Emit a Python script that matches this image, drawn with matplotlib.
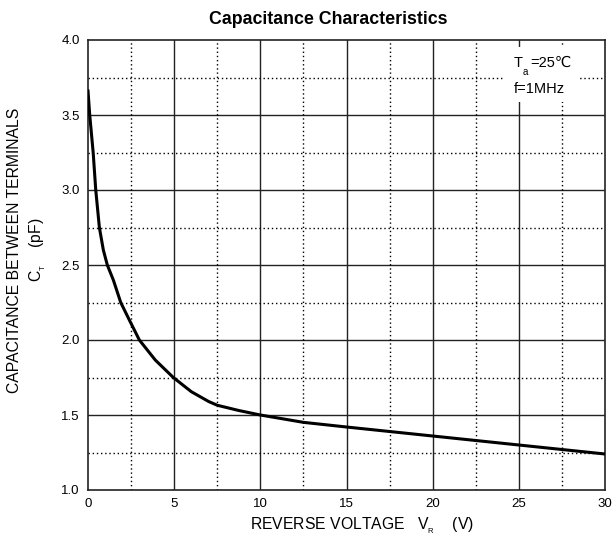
import matplotlib
matplotlib.use("Agg")
import matplotlib.pyplot as plt
from matplotlib.patches import Rectangle

# ── data ──────────────────────────────────────────────────────────
reverse_v = [0, 0.1, 0.3, 0.45, 0.66, 0.89, 1.12, 1.47, 1.9, 2.4, 2.98, 3.9,
             4.95, 6.0, 7.0, 7.5, 8.75, 10, 12.5, 15, 17.5, 20, 22.5, 25, 27.5, 30]
cap_pf = [3.66, 3.5, 3.25, 3.0, 2.75, 2.6, 2.5, 2.4, 2.25, 2.133, 2.0, 1.867,
          1.75, 1.655, 1.59, 1.565, 1.53, 1.50, 1.451, 1.42, 1.39, 1.36, 1.33,
          1.30, 1.27, 1.24]

x_ticks = [0, 5, 10, 15, 20, 25, 30]
y_ticks = [1.0, 1.5, 2.0, 2.5, 3.0, 3.5, 4.0]
x_minor = [2.5, 7.5, 12.5, 17.5, 22.5, 27.5]
y_minor = [1.25, 1.75, 2.25, 2.75, 3.25, 3.75]

FONTS = ["Liberation Sans", "DejaVu Sans"]
plt.rcParams["font.family"] = FONTS

W, H = 613, 542
fig = plt.figure(figsize=(W / 100, H / 100), dpi=100)
ax = fig.add_axes([88 / W, 1 - 490 / H, 517 / W, 450 / H])

ax.set_xlim(0, 30)
ax.set_ylim(1.0, 4.0)

# grid: solid majors, dotted minors
for xv in x_ticks[1:-1]:
    ax.axvline(xv, color="#222222", lw=1.0, zorder=1)
for yv in y_ticks[1:-1]:
    ax.axhline(yv, color="#222222", lw=1.0, zorder=1)
for xv in x_minor:
    ax.axvline(xv, color="black", lw=1.0, ls=(0, (1, 2)), zorder=1)
for yv in y_minor:
    ax.axhline(yv, color="black", lw=1.0, ls=(0, (1, 2)), zorder=1)

ax.plot(reverse_v, cap_pf, color="black", lw=2.2, zorder=3)

ax.set_xticks(x_ticks)
ax.set_yticks(y_ticks)
ax.set_xticklabels([str(v) for v in x_ticks])
ax.set_yticklabels([f"{v:.1f}" for v in y_ticks])
ax.tick_params(length=0, labelsize=9.5, pad=6)
for s in ax.spines.values():
    s.set_linewidth(1.2)
    s.set_color("#222222")

fig.text(328 / W, 1 - 20 / H, "Capacitance Characteristics",
         ha="center", va="center", fontsize=12.8, fontweight="bold")
fig.text(362 / W, 1 - 526 / H, r"REVERSE VOLTAGE   V$\mathregular{_{_R}}$    (V)",
         ha="center", va="center", fontsize=11.3)
fig.text(15 / W, 1 - 250 / H, "CAPACITANCE BETWEEN TERMINALS",
         rotation=90, ha="center", va="center", fontsize=11.3)
fig.text(38 / W, 1 - 250 / H, r"C$\mathregular{_{_T}}$    (pF)",
         rotation=90, ha="center", va="center", fontsize=11.3)

# condition note on a white patch
ax.add_patch(Rectangle((0.803, 0.862), 0.149, 0.122, transform=ax.transAxes,
                       facecolor="white", edgecolor="none", zorder=2))
ax.text(24.72, 3.847, "T", fontsize=10.5, ha="left", va="center", zorder=4)
ax.text(25.24, 3.789, "a", fontsize=7, ha="left", va="center", zorder=4)
ax.text(25.65, 3.847, "=25℃", fontsize=10.5, ha="left", va="center",
        family=FONTS, zorder=4)
ax.text(24.72, 3.673, "f=1MHz", fontsize=10.5, ha="left", va="center", zorder=4)

fig.savefig("out.png", dpi=100)
